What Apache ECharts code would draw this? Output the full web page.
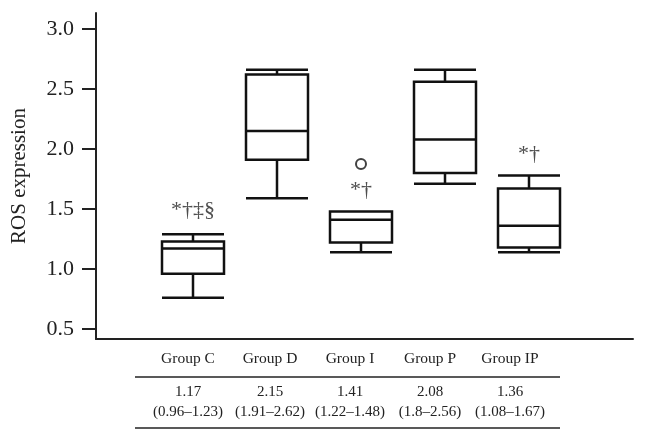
<!DOCTYPE html>
<html>
<head>
<meta charset="utf-8">
<script src="https://cdn.jsdelivr.net/npm/echarts@6/dist/echarts.min.js"></script>
<style>
    html, body { margin: 0; padding: 0; background: #fff; }
    #echarts { width: 647px; height: 443px; }
</style>
</head>
<body>
<div id="echarts"></div>
<script>
// 数据
var groups = ['Group C', 'Group D', 'Group I', 'Group P', 'Group IP'];
// [min, Q1, median, Q3, max]
var boxValues = [
    [0.76, 0.96, 1.17, 1.23, 1.29],
    [1.59, 1.91, 2.15, 2.62, 2.66],
    [1.14, 1.22, 1.41, 1.48, 1.48],
    [1.71, 1.80, 2.08, 2.56, 2.66],
    [1.14, 1.18, 1.36, 1.67, 1.78]
];
var outliers = [['Group I', 1.875]];
var marks = [['Group C', 1.49, '*†‡§'], ['Group I', 1.66, '*†'], ['Group IP', 1.96, '*†']];
var yTicks = [0.5, 1.0, 1.5, 2.0, 2.5, 3.0];
var medians = ['1.17', '2.15', '1.41', '2.08', '1.36'];
var ranges = ['(0.96\u20131.23)', '(1.91\u20132.62)', '(1.22\u20131.48)', '(1.8\u20132.56)', '(1.08\u20131.67)'];

var font = '"Liberation Serif", "DejaVu Serif", serif';
var yMin = 0.4167, yMax = 3.1333;

// 表格
var tableCols = [188, 270, 350, 430, 510];
var graphics = [
    { type: 'line', shape: { x1: 135, y1: 377, x2: 560, y2: 377 }, style: { stroke: '#222', lineWidth: 1.5 } },
    { type: 'line', shape: { x1: 135, y1: 428, x2: 560, y2: 428 }, style: { stroke: '#222', lineWidth: 1.5 } }
];
for (var i = 0; i < groups.length; i++) {
    graphics.push({ type: 'text', x: tableCols[i], y: 359, style: { text: groups[i], font: '15.5px ' + font, fill: '#222', align: 'center', verticalAlign: 'middle' } });
    graphics.push({ type: 'text', x: tableCols[i], y: 392, style: { text: medians[i], font: '15px ' + font, fill: '#222', align: 'center', verticalAlign: 'middle' } });
    graphics.push({ type: 'text', x: tableCols[i], y: 412, style: { text: ranges[i], font: '15px ' + font, fill: '#222', align: 'center', verticalAlign: 'middle' } });
}

var chart = echarts.init(document.getElementById('echarts'));
var option = {
    animation: false,
    grid: [
        { left: 96, right: 14, top: 13, bottom: 104 },
        { left: 151, width: 420, top: 13, bottom: 104 }
    ],
    xAxis: [
        {
            gridIndex: 0, type: 'value', min: 0, max: 1,
            axisLine: { show: true, lineStyle: { color: '#222', width: 2 } },
            axisTick: { show: false }, axisLabel: { show: false }, splitLine: { show: false }
        },
        {
            gridIndex: 1, type: 'category', data: groups, show: false
        }
    ],
    yAxis: [
        {
            gridIndex: 0, type: 'value', min: yMin, max: yMax,
            name: 'ROS expression', nameLocation: 'middle', nameRotate: 90, nameGap: 66,
            nameTextStyle: { fontFamily: font, fontSize: 21, color: '#222' },
            axisLine: { show: true, lineStyle: { color: '#222', width: 2 } },
            axisTick: { show: true, length: 14, customValues: yTicks, lineStyle: { color: '#222', width: 2 } },
            axisLabel: {
                customValues: yTicks, margin: 22, fontFamily: font, fontSize: 22, color: '#222',
                formatter: function (v) { return v.toFixed(1); }
            },
            splitLine: { show: false }
        },
        {
            gridIndex: 1, type: 'value', min: yMin, max: yMax, show: false
        }
    ],
    series: [
        {
            type: 'boxplot',
            xAxisIndex: 1, yAxisIndex: 1,
            boxWidth: [62, 62],
            itemStyle: { color: '#fff', borderColor: '#111', borderWidth: 2.5 },
            data: boxValues
        },
        {
            type: 'scatter',
            xAxisIndex: 1, yAxisIndex: 1,
            symbol: 'emptyCircle', symbolSize: 10,
            itemStyle: { color: '#111', borderColor: '#111', borderWidth: 2 },
            data: outliers
        },
        {
            type: 'scatter',
            xAxisIndex: 1, yAxisIndex: 1,
            symbolSize: 0,
            label: {
                show: true, position: 'inside',
                fontFamily: font, fontSize: 22, color: '#222',
                formatter: function (p) { return p.data[2]; }
            },
            data: marks
        }
    ],
    graphic: graphics
};
chart.setOption(option);
</script>
</body>
</html>
